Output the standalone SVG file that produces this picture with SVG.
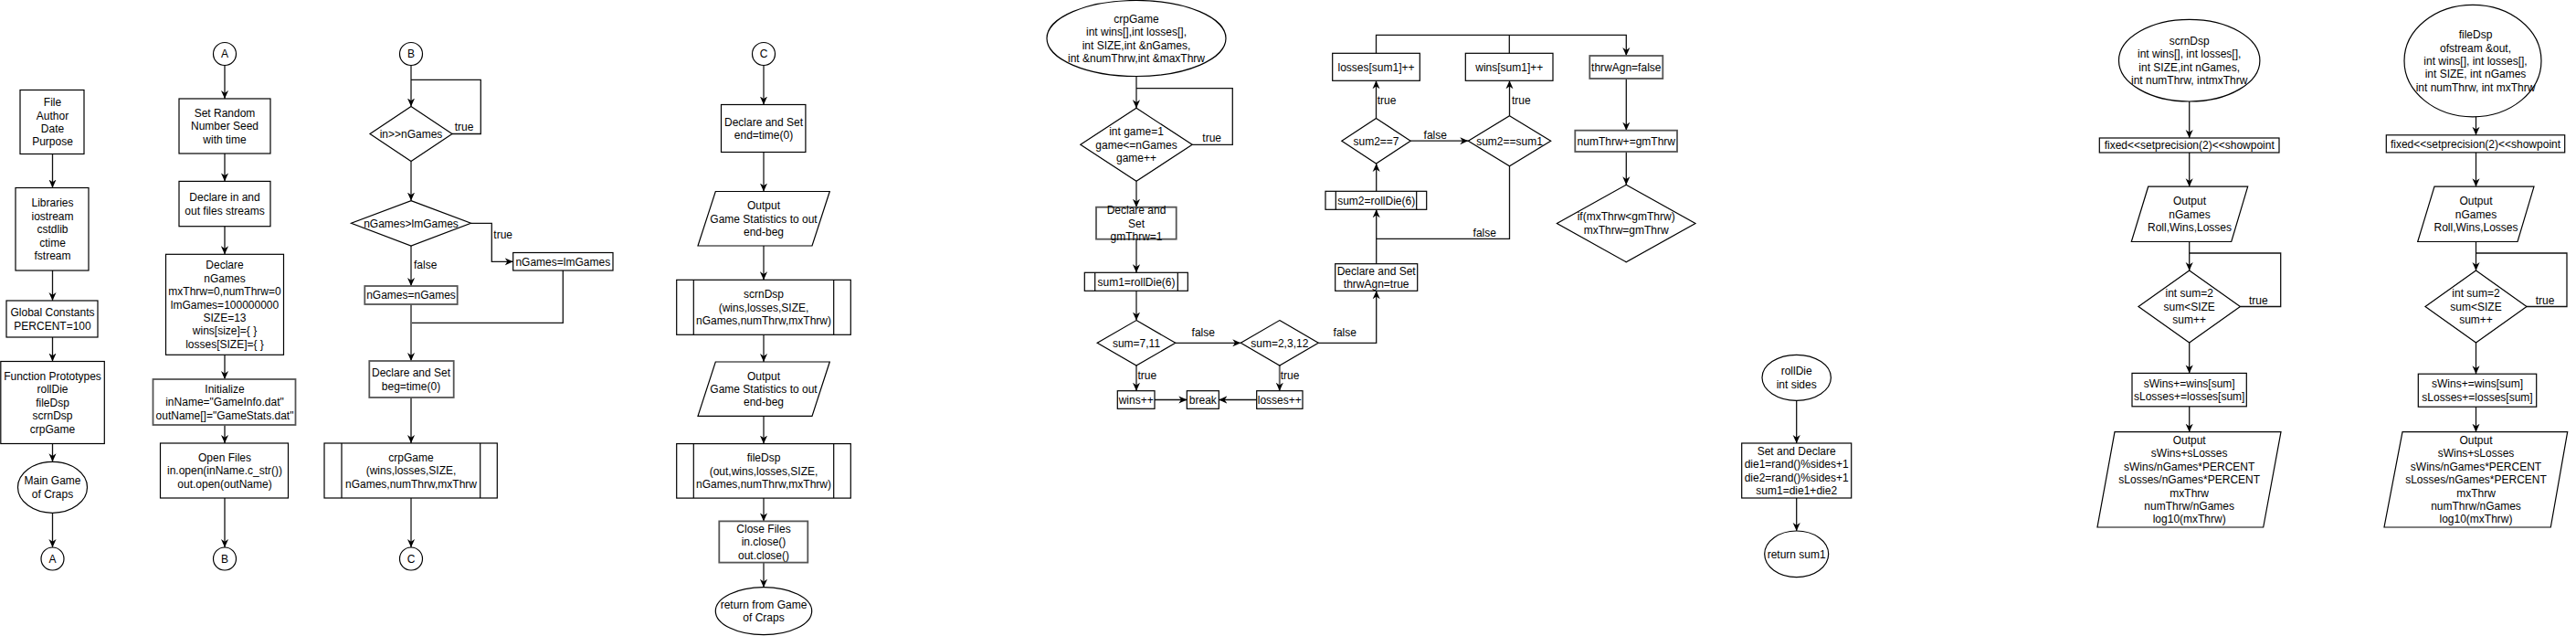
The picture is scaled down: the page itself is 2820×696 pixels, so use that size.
<svg xmlns="http://www.w3.org/2000/svg" width="2820" height="696" viewBox="0 0 2820 696">
<style>
.n{fill:#fff;stroke:#000;stroke-width:1.2}
.g{fill:#fff;stroke:#555;stroke-width:1.8}
.c{fill:none;stroke:#111;stroke-width:1.3}
.cg{fill:none;stroke:#6b6b6b;stroke-width:2}
text{font-family:"Liberation Sans",Arial,Helvetica,sans-serif;font-size:12px;fill:#000;text-anchor:middle}
.s{text-anchor:start}
</style>
<defs>
<marker id="ar" markerUnits="userSpaceOnUse" markerWidth="9" markerHeight="9" viewBox="0 0 10 10" refX="10" refY="5" orient="auto">
<path d="M0,0.5 L10,5 L0,9.5 L3,5 z" fill="#000"/>
</marker>
</defs>
<rect width="2820" height="696" fill="#fff"/>

<g id="connectors">
<!-- col1 -->
<path class="c" d="M57.5,168.5 V205.5" marker-end="url(#ar)"/>
<path class="c" d="M57.5,296 V329" marker-end="url(#ar)"/>
<path class="c" d="M57.5,369 V395.5" marker-end="url(#ar)"/>
<path class="c" d="M57.5,485.5 V505.3" marker-end="url(#ar)"/>
<path class="c" d="M57.5,561.3 V599" marker-end="url(#ar)"/>
<!-- col2 -->
<path class="c" d="M246,71.5 V108" marker-end="url(#ar)"/>
<path class="c" d="M246,168 V198.4" marker-end="url(#ar)"/>
<path class="c" d="M246,247.7 V278.3" marker-end="url(#ar)"/>
<path class="c" d="M246,388.3 V415" marker-end="url(#ar)"/>
<path class="c" d="M246,465 V485" marker-end="url(#ar)"/>
<path class="c" d="M246,545 V599" marker-end="url(#ar)"/>
<!-- col3 -->
<path class="cg" d="M450,71.5 V116.5" marker-end="url(#ar)"/>
<path class="c" d="M495,146.5 H526.3 V87.4 H450"/>
<path class="cg" d="M450,176.5 V219.6" marker-end="url(#ar)"/>
<path class="c" d="M515.5,244.3 H538.3 V286.3 H561.7" marker-end="url(#ar)"/>
<path class="cg" d="M450,269 V313" marker-end="url(#ar)"/>
<path class="c" d="M616.3,296 V353.3 H450"/>
<path class="cg" d="M450,333 V395" marker-end="url(#ar)"/>
<path class="c" d="M450,435 V485" marker-end="url(#ar)"/>
<path class="cg" d="M450,545 V599" marker-end="url(#ar)"/>
<!-- col4 -->
<path class="cg" d="M836,71.5 V114.5" marker-end="url(#ar)"/>
<path class="cg" d="M836,166.5 V209.5" marker-end="url(#ar)"/>
<path class="cg" d="M836,269 V306.3" marker-end="url(#ar)"/>
<path class="cg" d="M836,366.3 V396" marker-end="url(#ar)"/>
<path class="cg" d="M836,455.4 V485.6" marker-end="url(#ar)"/>
<path class="cg" d="M836,545.1 V570.4" marker-end="url(#ar)"/>
<path class="cg" d="M836,615.6 V642.7" marker-end="url(#ar)"/>
<!-- crpGame -->
<path class="cg" d="M1244,83.5 V118.3" marker-end="url(#ar)"/>
<path class="c" d="M1305.2,158.3 H1349.3 V96.7 H1244"/>
<path class="cg" d="M1244,198.3 V226.7" marker-end="url(#ar)"/>
<path class="cg" d="M1244,261.7 V298.3" marker-end="url(#ar)"/>
<path class="cg" d="M1244,318.3 V350.6" marker-end="url(#ar)"/>
<path class="c" d="M1286.8,375.3 H1358.3" marker-end="url(#ar)"/>
<path class="cg" d="M1244,400 V427.7" marker-end="url(#ar)"/>
<path class="cg" d="M1400.8,400 V427.7" marker-end="url(#ar)"/>
<path class="c" d="M1264,437.5 H1299.3" marker-end="url(#ar)"/>
<path class="c" d="M1375.7,437.5 H1334.3" marker-end="url(#ar)"/>
<path class="c" d="M1443.3,375.3 H1506.7 V318.3" marker-end="url(#ar)"/>
<path class="c" d="M1506.7,288.7 V229.3" marker-end="url(#ar)"/>
<path class="c" d="M1652.5,181.7 V261.3 H1506.7"/>
<path class="c" d="M1506.7,209.3 V179" marker-end="url(#ar)"/>
<path class="c" d="M1544.2,154.2 H1607.3" marker-end="url(#ar)"/>
<path class="c" d="M1506.5,129.4 V88.3" marker-end="url(#ar)"/>
<path class="c" d="M1652.5,126.7 V88.3" marker-end="url(#ar)"/>
<path class="c" d="M1506.5,58.3 V38.3 H1780.3 V61" marker-end="url(#ar)"/>
<path class="c" d="M1652.3,58.3 V38.3"/>
<path class="c" d="M1780.3,86 V142.7" marker-end="url(#ar)"/>
<path class="c" d="M1780.3,166 V202.3" marker-end="url(#ar)"/>
<!-- rollDie -->
<path class="c" d="M1966.7,438.3 V485" marker-end="url(#ar)"/>
<path class="c" d="M1966.7,545 V581" marker-end="url(#ar)"/>
<!-- scrnDsp -->
<path class="c" d="M2396.7,111 V151" marker-end="url(#ar)"/>
<path class="c" d="M2396.7,167 V204.2" marker-end="url(#ar)"/>
<path class="c" d="M2396.7,264.5 V296" marker-end="url(#ar)"/>
<path class="c" d="M2452.4,335.5 H2496.7 V277 H2396.7"/>
<path class="c" d="M2396.7,375 V408.4" marker-end="url(#ar)"/>
<path class="c" d="M2396.7,444.8 V472.7" marker-end="url(#ar)"/>
<!-- fileDsp -->
<path class="c" d="M2710.5,127.8 V147.8" marker-end="url(#ar)"/>
<path class="c" d="M2710.5,166.9 V204.2" marker-end="url(#ar)"/>
<path class="c" d="M2710.5,264.5 V296" marker-end="url(#ar)"/>
<path class="c" d="M2766,335.5 H2810 V277 H2710.5"/>
<path class="c" d="M2710.5,375 V409.2" marker-end="url(#ar)"/>
<path class="c" d="M2710.5,445.2 V472.7" marker-end="url(#ar)"/>
<!-- labels -->
<text x="508" y="142.8">true</text>
<text x="550.7" y="260.9">true</text>
<text class="s" x="453" y="293.7">false</text>
<text x="1326.7" y="155">true</text>
<text x="1317.3" y="368">false</text>
<text class="s" x="1245.5" y="415">true</text>
<text class="s" x="1401.7" y="415">true</text>
<text x="1472.3" y="368">false</text>
<text x="1625.3" y="259">false</text>
<text x="1571.3" y="151.6">false</text>
<text class="s" x="1507.7" y="114">true</text>
<text class="s" x="1655" y="114">true</text>
<text x="2472.3" y="332.8">true</text>
<text x="2786" y="332.8">true</text>
</g>

<!-- column 1 -->
<g id="header"><rect class="n" x="22" y="98.5" width="70" height="70"/>
<text y="116.2"><tspan x="57.5">File</tspan><tspan x="57.5" dy="14.4">Author</tspan><tspan x="57.5" dy="14.4">Date</tspan><tspan x="57.5" dy="14.4">Purpose</tspan></text></g>
<g id="libraries"><rect class="n" x="17" y="205.5" width="80" height="90.5"/>
<text y="226.3"><tspan x="57.5">Libraries</tspan><tspan x="57.5" dy="14.4">iostream</tspan><tspan x="57.5" dy="14.4">cstdlib</tspan><tspan x="57.5" dy="14.4">ctime</tspan><tspan x="57.5" dy="14.4">fstream</tspan></text></g>
<g id="globals"><rect class="n" x="7" y="329" width="100" height="40"/>
<text y="346.1"><tspan x="57.5">Global Constants</tspan><tspan x="57.5" dy="14.4">PERCENT=100</tspan></text></g>
<g id="prototypes"><rect class="n" x="0.8" y="395.5" width="113.5" height="90"/>
<text y="416"><tspan x="57.5">Function Prototypes</tspan><tspan x="57.5" dy="14.4">rollDie</tspan><tspan x="57.5" dy="14.4">fileDsp</tspan><tspan x="57.5" dy="14.4">scrnDsp</tspan><tspan x="57.5" dy="14.4">crpGame</tspan></text></g>
<g id="mainStart"><ellipse class="n" cx="57.5" cy="533.3" rx="38" ry="28"/>
<text y="530.4"><tspan x="57.5">Main Game</tspan><tspan x="57.5" dy="14.4">of Craps</tspan></text></g>
<g id="connA1"><circle class="n" cx="57.5" cy="611.5" r="12.5"/><text x="57.5" y="615.8">A</text></g>

<!-- column 2 -->
<g id="connA2"><circle class="n" cx="246" cy="59" r="12.5"/><text x="246" y="63.3">A</text></g>
<g id="seed"><rect class="n" x="196" y="108" width="100" height="60"/>
<text y="127.9"><tspan x="246">Set Random</tspan><tspan x="246" dy="14.4">Number Seed</tspan><tspan x="246" dy="14.4">with time</tspan></text></g>
<g id="streams"><rect class="n" x="196" y="198.4" width="100" height="49.3"/>
<text y="220.1"><tspan x="246">Declare in and</tspan><tspan x="246" dy="14.4">out files streams</tspan></text></g>
<g id="declare"><rect class="n" x="181.5" y="278.3" width="129" height="110"/>
<text y="294.4"><tspan x="246">Declare</tspan><tspan x="246" dy="14.4">nGames</tspan><tspan x="246" dy="14.4">mxThrw=0,numThrw=0</tspan><tspan x="246" dy="14.4">lmGames=100000000</tspan><tspan x="246" dy="14.4">SIZE=13</tspan><tspan x="246" dy="14.4">wins[size]={ }</tspan><tspan x="246" dy="14.4">losses[SIZE]={ }</tspan></text></g>
<g id="init"><rect class="g" x="167.5" y="415" width="156" height="50"/>
<text y="429.9"><tspan x="246">Initialize</tspan><tspan x="246" dy="14.4">inName="GameInfo.dat"</tspan><tspan x="246" dy="14.4">outName[]="GameStats.dat"</tspan></text></g>
<g id="openFiles"><rect class="n" x="175.5" y="485" width="140" height="60"/>
<text y="504.9"><tspan x="246">Open Files</tspan><tspan x="246" dy="14.4">in.open(inName.c_str())</tspan><tspan x="246" dy="14.4">out.open(outName)</tspan></text></g>
<g id="connB1"><circle class="n" cx="246" cy="611.5" r="12.5"/><text x="246" y="615.8">B</text></g>

<!-- column 3 -->
<g id="connB2"><circle class="n" cx="450" cy="59" r="12.5"/><text x="450" y="63.3">B</text></g>
<g id="readLoop"><polygon class="n" points="450,116.5 495,146.5 450,176.5 405,146.5"/><text x="450" y="150.8">in&gt;&gt;nGames</text></g>
<g id="limitCheck"><polygon class="n" points="450,219.6 515.5,244.3 450,269 384.5,244.3"/><text x="450" y="248.6">nGames&gt;lmGames</text></g>
<g id="setLimit"><rect class="n" x="561.7" y="276.5" width="109.3" height="19.5"/><text x="616.3" y="290.5">nGames=lmGames</text></g>
<g id="keepGames"><rect class="g" x="399.3" y="313" width="101.4" height="20"/><text x="450" y="327.3">nGames=nGames</text></g>
<g id="begTime"><rect class="g" x="404.3" y="395" width="92.4" height="40"/>
<text y="412.1"><tspan x="450">Declare and Set</tspan><tspan x="450" dy="14.4">beg=time(0)</tspan></text></g>
<g id="callCrp"><rect class="n" x="355" y="485" width="189.3" height="60"/><path class="n" d="M374,485 V545 M525.7,485 V545"/>
<text y="504.9"><tspan x="450">crpGame</tspan><tspan x="450" dy="14.4">(wins,losses,SIZE,</tspan><tspan x="450" dy="14.4">nGames,numThrw,mxThrw</tspan></text></g>
<g id="connC1"><circle class="n" cx="450" cy="611.5" r="12.5"/><text x="450" y="615.8">C</text></g>

<!-- column 4 -->
<g id="connC2"><circle class="n" cx="836" cy="59" r="12.5"/><text x="836" y="63.3">C</text></g>
<g id="endTime"><rect class="n" x="789.5" y="114.5" width="92.4" height="52"/>
<text y="137.6"><tspan x="836">Declare and Set</tspan><tspan x="836" dy="14.4">end=time(0)</tspan></text></g>
<g id="out1"><polygon class="n" points="783.3,209.5 908.3,209.5 889,269 764,269"/>
<text y="229.2"><tspan x="836">Output</tspan><tspan x="836" dy="14.4">Game Statistics to out</tspan><tspan x="836" dy="14.4">end-beg</tspan></text></g>
<g id="callScrn"><rect class="n" x="740.7" y="306.3" width="190.6" height="60"/><path class="n" d="M759.3,306.3 V366.3 M912.7,306.3 V366.3"/>
<text y="326.2"><tspan x="836">scrnDsp</tspan><tspan x="836" dy="14.4">(wins,losses,SIZE,</tspan><tspan x="836" dy="14.4">nGames,numThrw,mxThrw)</tspan></text></g>
<g id="out2"><polygon class="n" points="783.3,396 908.3,396 889,455.4 764,455.4"/>
<text y="415.6"><tspan x="836">Output</tspan><tspan x="836" dy="14.4">Game Statistics to out</tspan><tspan x="836" dy="14.4">end-beg</tspan></text></g>
<g id="callFile"><rect class="n" x="740.7" y="485.6" width="190.6" height="59.5"/><path class="n" d="M759.3,485.6 V545.1 M912.7,485.6 V545.1"/>
<text y="505.2"><tspan x="836">fileDsp</tspan><tspan x="836" dy="14.4">(out,wins,losses,SIZE,</tspan><tspan x="836" dy="14.4">nGames,numThrw,mxThrw)</tspan></text></g>
<g id="closeFiles"><rect class="g" x="787.3" y="570.4" width="97" height="45.2"/>
<text y="582.9"><tspan x="836">Close Files</tspan><tspan x="836" dy="14.4">in.close()</tspan><tspan x="836" dy="14.4">out.close()</tspan></text></g>
<g id="mainEnd"><ellipse class="n" cx="836" cy="668.7" rx="52.7" ry="26"/>
<text y="665.8"><tspan x="836">return from Game</tspan><tspan x="836" dy="14.4">of Craps</tspan></text></g>

<!-- crpGame -->
<g id="crpStart"><ellipse class="n" cx="1244" cy="42" rx="98" ry="41.5"/>
<text y="24.7"><tspan x="1244">crpGame</tspan><tspan x="1244" dy="14.4">int wins[],int losses[],</tspan><tspan x="1244" dy="14.4">int SIZE,int &amp;nGames,</tspan><tspan x="1244" dy="14.4">int &amp;numThrw,int &amp;maxThrw</tspan></text></g>
<g id="gameLoop"><polygon class="n" points="1244,118.3 1305.2,158.3 1244,198.3 1182.8,158.3"/>
<text y="148.2"><tspan x="1244">int game=1</tspan><tspan x="1244" dy="14.4">game&lt;=nGames</tspan><tspan x="1244" dy="14.4">game++</tspan></text></g>
<g id="gmThrw"><rect class="g" x="1200" y="226.7" width="87.7" height="35"/>
<text y="234.3"><tspan x="1244">Declare and</tspan><tspan x="1244" dy="14.4">Set</tspan><tspan x="1244" dy="14.4">gmThrw=1</tspan></text></g>
<g id="roll1"><rect class="n" x="1187.3" y="298.3" width="113" height="20"/><path class="n" d="M1198.7,298.3 V318.3 M1289.3,298.3 V318.3"/><text x="1244" y="312.6">sum1=rollDie(6)</text></g>
<g id="win711"><polygon class="n" points="1244,350.6 1286.8,375.3 1244,400 1201.2,375.3"/><text x="1244" y="379.6">sum=7,11</text></g>
<g id="lose2312"><polygon class="n" points="1400.8,350.6 1443.3,375.3 1400.8,400 1358.3,375.3"/><text x="1400.8" y="379.6">sum=2,3,12</text></g>
<g id="winsInc"><rect class="n" x="1223.3" y="427.7" width="40.7" height="19.6"/><text x="1243.7" y="441.8">wins++</text></g>
<g id="brk"><rect class="n" x="1299.3" y="427.7" width="35" height="19.6"/><text x="1316.8" y="441.8">break</text></g>
<g id="lossesInc"><rect class="n" x="1375.7" y="427.7" width="50.3" height="19.6"/><text x="1400.8" y="441.8">losses++</text></g>
<g id="thrwAgnTrue"><rect class="n" x="1461.7" y="288.7" width="90" height="29.6"/>
<text y="300.6"><tspan x="1506.7">Declare and Set</tspan><tspan x="1506.7" dy="14.4">thrwAgn=true</tspan></text></g>
<g id="roll2"><rect class="n" x="1451" y="209.3" width="110.7" height="20"/><path class="n" d="M1462.3,209.3 V229.3 M1550.7,209.3 V229.3"/><text x="1506.7" y="223.6">sum2=rollDie(6)</text></g>
<g id="is7"><polygon class="n" points="1506.5,129.4 1544.2,154.2 1506.5,179 1468.8,154.2"/><text x="1506.5" y="158.5">sum2==7</text></g>
<g id="isPoint"><polygon class="n" points="1652.5,126.7 1697.7,154.2 1652.5,181.7 1607.3,154.2"/><text x="1652.5" y="158.5">sum2==sum1</text></g>
<g id="lossesArr"><rect class="n" x="1458.7" y="58.3" width="95.6" height="30"/><text x="1506.5" y="77.6">losses[sum1]++</text></g>
<g id="winsArr"><rect class="n" x="1604.3" y="58.3" width="95.7" height="30"/><text x="1652.3" y="77.6">wins[sum1]++</text></g>
<g id="thrwAgnFalse"><rect class="g" x="1740.3" y="61" width="80" height="25"/><text x="1780.3" y="77.8">thrwAgn=false</text></g>
<g id="numThrw"><rect class="g" x="1724.3" y="142.7" width="111.7" height="23.3"/><text x="1780.3" y="158.6">numThrw+=gmThrw</text></g>
<g id="maxCheck"><polygon class="n" points="1780.2,202.3 1856,244.5 1780.2,286.7 1704.4,244.5"/>
<text y="241"><tspan x="1780.2">if(mxThrw&lt;gmThrw)</tspan><tspan x="1780.2" dy="15">mxThrw=gmThrw</tspan></text></g>

<!-- rollDie -->
<g id="rollStart"><ellipse class="n" cx="1966.7" cy="413.3" rx="37.7" ry="25"/>
<text y="410.4"><tspan x="1966.7">rollDie</tspan><tspan x="1966.7" dy="14.4">int sides</tspan></text></g>
<g id="dice"><rect class="n" x="1906.7" y="485" width="120" height="60"/>
<text y="497.7"><tspan x="1966.7">Set and Declare</tspan><tspan x="1966.7" dy="14.4">die1=rand()%sides+1</tspan><tspan x="1966.7" dy="14.4">die2=rand()%sides+1</tspan><tspan x="1966.7" dy="14.4">sum1=die1+die2</tspan></text></g>
<g id="rollEnd"><ellipse class="n" cx="1966.7" cy="606.3" rx="35" ry="25.3"/><text x="1966.7" y="610.6">return sum1</text></g>

<!-- scrnDsp -->
<g id="scrnStart"><ellipse class="n" cx="2396.7" cy="66.2" rx="77.2" ry="44.8"/>
<text y="48.9"><tspan x="2396.7">scrnDsp</tspan><tspan x="2396.7" dy="14.4">int wins[], int losses[],</tspan><tspan x="2396.7" dy="14.4">int SIZE,int nGames,</tspan><tspan x="2396.7" dy="14.4">int numThrw, intmxThrw</tspan></text></g>
<g id="scrnFmt"><rect class="n" x="2298.3" y="151" width="196.7" height="16"/><text x="2396.7" y="163.3">fixed&lt;&lt;setprecision(2)&lt;&lt;showpoint</text></g>
<g id="scrnOut1"><polygon class="n" points="2351.7,204.2 2460.7,204.2 2442.7,264.5 2333.3,264.5"/>
<text y="224.3"><tspan x="2397">Output</tspan><tspan x="2397" dy="14.4">nGames</tspan><tspan x="2397" dy="14.4">Roll,Wins,Losses</tspan></text></g>
<g id="scrnLoop"><polygon class="n" points="2396.7,296 2452.4,335.5 2396.7,375 2341,335.5"/>
<text y="325.4"><tspan x="2396.7">int sum=2</tspan><tspan x="2396.7" dy="14.4">sum&lt;SIZE</tspan><tspan x="2396.7" dy="14.4">sum++</tspan></text></g>
<g id="scrnSum"><rect class="n" x="2334" y="408.4" width="125.3" height="36.4"/>
<text y="423.7"><tspan x="2396.7">sWins+=wins[sum]</tspan><tspan x="2396.7" dy="14.4">sLosses+=losses[sum]</tspan></text></g>
<g id="scrnOut2"><polygon class="n" points="2315,472.7 2497,472.7 2477.7,577 2296,577"/>
<text y="486"><tspan x="2396.7">Output</tspan><tspan x="2396.7" dy="14.4">sWins+sLosses</tspan><tspan x="2396.7" dy="14.4">sWins/nGames*PERCENT</tspan><tspan x="2396.7" dy="14.4">sLosses/nGames*PERCENT</tspan><tspan x="2396.7" dy="14.4">mxThrw</tspan><tspan x="2396.7" dy="14.4">numThrw/nGames</tspan><tspan x="2396.7" dy="14.4">log10(mxThrw)</tspan></text></g>

<!-- fileDsp -->
<g id="fileStart"><ellipse class="n" cx="2707" cy="66.6" rx="75" ry="61.2"/>
<text y="42.1"><tspan x="2710">fileDsp</tspan><tspan x="2710" dy="14.4">ofstream &amp;out,</tspan><tspan x="2710" dy="14.4">int wins[], int losses[],</tspan><tspan x="2710" dy="14.4">int SIZE, int nGames</tspan><tspan x="2710" dy="14.4">int numThrw, int mxThrw</tspan></text></g>
<g id="fileFmt"><rect class="n" x="2612.3" y="147.8" width="195.4" height="19.1"/><text x="2710" y="161.6">fixed&lt;&lt;setprecision(2)&lt;&lt;showpoint</text></g>
<g id="fileOut1"><polygon class="n" points="2665,204.2 2774,204.2 2756,264.5 2646.7,264.5"/>
<text y="224.3"><tspan x="2710.5">Output</tspan><tspan x="2710.5" dy="14.4">nGames</tspan><tspan x="2710.5" dy="14.4">Roll,Wins,Losses</tspan></text></g>
<g id="fileLoop"><polygon class="n" points="2710.5,296 2766,335.5 2710.5,375 2655,335.5"/>
<text y="325.4"><tspan x="2710.5">int sum=2</tspan><tspan x="2710.5" dy="14.4">sum&lt;SIZE</tspan><tspan x="2710.5" dy="14.4">sum++</tspan></text></g>
<g id="fileSum"><rect class="n" x="2647.3" y="409.2" width="129.4" height="36"/>
<text y="424.3"><tspan x="2712">sWins+=wins[sum]</tspan><tspan x="2712" dy="14.4">sLosses+=losses[sum]</tspan></text></g>
<g id="fileOut2"><polygon class="n" points="2630,472.7 2810.7,472.7 2792.3,577 2610,577"/>
<text y="486"><tspan x="2710.5">Output</tspan><tspan x="2710.5" dy="14.4">sWins+sLosses</tspan><tspan x="2710.5" dy="14.4">sWins/nGames*PERCENT</tspan><tspan x="2710.5" dy="14.4">sLosses/nGames*PERCENT</tspan><tspan x="2710.5" dy="14.4">mxThrw</tspan><tspan x="2710.5" dy="14.4">numThrw/nGames</tspan><tspan x="2710.5" dy="14.4">log10(mxThrw)</tspan></text></g>
</svg>
